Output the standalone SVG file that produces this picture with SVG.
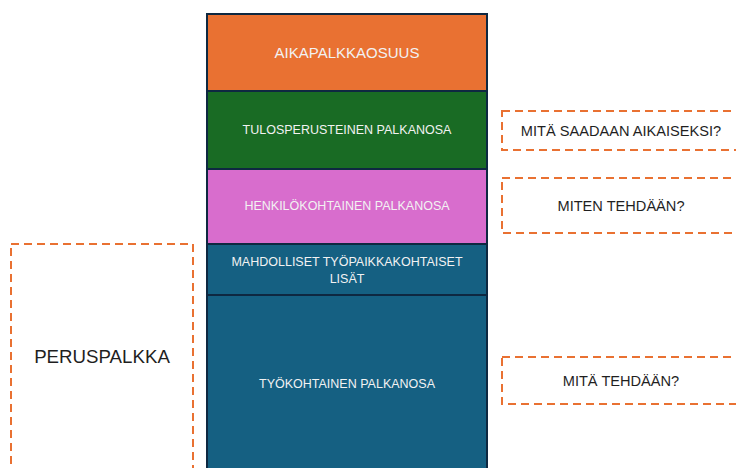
<svg xmlns="http://www.w3.org/2000/svg" width="736" height="468" viewBox="0 0 736 468">
  <style>
    .seg { stroke: #0e2841; stroke-width: 2; }
    .lbl { font-family: "Liberation Sans", Arial, sans-serif; fill: #f2f2f2; text-anchor: middle; }
    .q { fill: none; stroke: #e97132; stroke-width: 2; stroke-dasharray: 8 5; }
    .qt { font-family: "Liberation Sans", Arial, sans-serif; fill: #1f1f1f; text-anchor: middle; }
  </style>
  <rect width="736" height="468" fill="#ffffff"/>

  <!-- salary component stack -->
  <g id="aikapalkkaosuus">
    <rect class="seg" x="207" y="14" width="280" height="77" fill="#e97132"/>
    <text class="lbl" x="347" y="58" font-size="15">AIKAPALKKAOSUUS</text>
  </g>
  <g id="tulosperusteinen">
    <rect class="seg" x="207" y="91" width="280" height="78" fill="#196b24"/>
    <text class="lbl" x="347" y="134" font-size="12.5">TULOSPERUSTEINEN PALKANOSA</text>
  </g>
  <g id="henkilokohtainen">
    <rect class="seg" x="207" y="169" width="280" height="75" fill="#d86dcd"/>
    <text class="lbl" x="347" y="210" font-size="12.5">HENKILÖKOHTAINEN PALKANOSA</text>
  </g>
  <g id="tyopaikkakohtaiset">
    <rect class="seg" x="207" y="244" width="280" height="51" fill="#156082"/>
    <text class="lbl" x="347" y="266" font-size="12.5">MAHDOLLISET TYÖPAIKKAKOHTAISET</text>
    <text class="lbl" x="347" y="283" font-size="12.5">LISÄT</text>
  </g>
  <g id="tyokohtainen">
    <rect class="seg" x="207" y="295" width="280" height="180" fill="#156082"/>
    <text class="lbl" x="347" y="388" font-size="12.5">TYÖKOHTAINEN PALKANOSA</text>
  </g>

  <!-- question boxes -->
  <g id="peruspalkka">
    <rect class="q" x="11" y="244" width="182" height="240"/>
    <text class="qt" x="102" y="363" font-size="18.7">PERUSPALKKA</text>
  </g>
  <g id="q-aikaiseksi">
    <rect class="q" x="502" y="111" width="250" height="39"/>
    <text class="qt" x="621" y="136" font-size="14.6">MITÄ SAADAAN AIKAISEKSI?</text>
  </g>
  <g id="q-miten">
    <rect class="q" x="502" y="178" width="250" height="55"/>
    <text class="qt" x="621" y="211" font-size="14.6">MITEN TEHDÄÄN?</text>
  </g>
  <g id="q-mita">
    <rect class="q" x="502" y="357" width="250" height="47"/>
    <text class="qt" x="621" y="386" font-size="14.6">MITÄ TEHDÄÄN?</text>
  </g>

  <g id="connectors"></g>
</svg>
